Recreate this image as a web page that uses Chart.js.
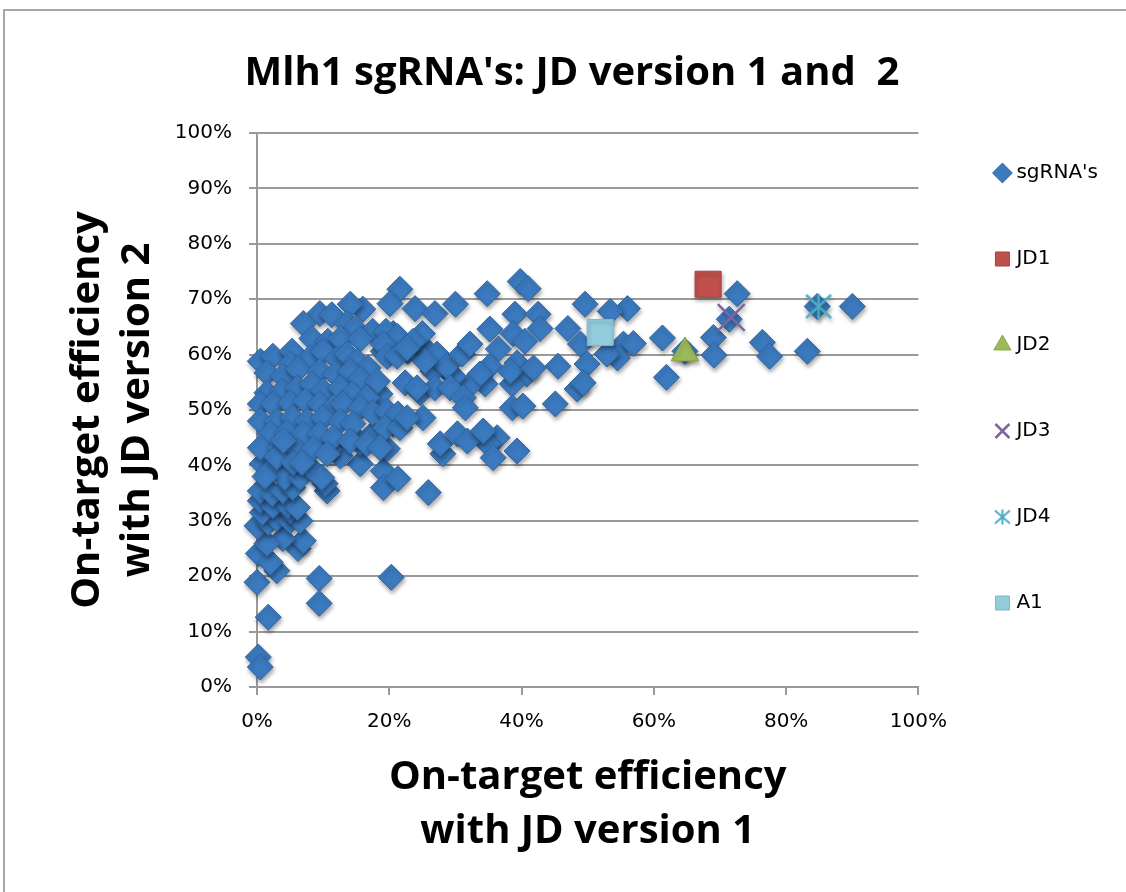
<!DOCTYPE html>
<html><head><meta charset="utf-8">
<script src="https://cdn.jsdelivr.net/npm/chart.js@4.4.1/dist/chart.umd.min.js"></script>
<style>
html,body{margin:0;padding:0;background:#fff;overflow:hidden}
#frame{position:absolute;left:3px;top:9px;width:1200px;height:1000px;border-left:2px solid #a6a6a6;border-top:2px solid #a6a6a6}
#wrap{position:absolute;left:0;top:0;width:1126px;height:892px}
</style></head><body>
<div id="frame"></div>
<div id="wrap"><canvas id="c" width="1126" height="892"></canvas></div>
<script>
const chartTitle = "Mlh1 sgRNA's: JD version 1 and  2";
const xTitle = ["On-target efficiency", "with JD version 1"];
const yTitle = ["On-target efficiency", "with JD version 2"];
const seriesNames = ["sgRNA's", "JD1", "JD2", "JD3", "JD4", "A1"];

// sgRNA's (x = JD version 1 %, y = JD version 2 %)
const sgX = [
 90.0,83.2,76.4,77.5,72.6,71.4,84.7,69.0,69.1,64.7,61.9,61.3,56.0,53.4,55.4,56.9,54.5,52.9,
 34.8,39.8,41.0,49.6,39.0,42.5,42.8,35.2,38.7,47.0,40.5,36.5,48.9,45.5,49.9,39.3,35.2,40.8,38.6,34.5,48.4,49.3,45.1,38.6,40.2,36.3,39.3,34.9,
 38.3,41.8,33.7,31.8,29.7,26.6,24.7,28.1,35.7,25.9,
 21.6,20.1,23.9,26.9,30.0,16.0,20.6,25.0,19.1,22.8,27.2,28.7,31.0,32.2,25.4,22.4,24.7,26.9,29.2,31.2,31.5,17.1,18.6,25.1,20.6,17.5,27.7,30.3,31.8,34.2,
 0.2,0.5,1.7,0.0,9.4,9.4,20.3,3.0,0.2,2.0,6.2,7.0,3.9,1.5,0.0,1.7,3.0,5.0,6.5,0.8,5.0,0.5,2.4,4.7,6.1,0.5,2.3,10.6,10.3,3.9,5.4,0.8,2.3,4.2,6.5,8.8,9.8,15.6,19.1,19.1,21.3,12.6,11.0,19.7,15.6,
 14.1,9.5,11.3,7.0,13.6,14.8,17.5,19.5,21.2,8.3,10.7,12.6,15.6,19.1,23.6,0.5,2.4,5.3,5.0,8.0,10.0,12.1,13.6,15.1,16.8,19.7,21.2,22.7,24.2,
 1.5,3.9,6.2,9.5,11.8,14.1,15.6,18.2,1.5,3.8,6.1,8.3,10.0,12.6,14.4,16.6,0.5,2.4,5.0,7.3,9.5,11.5,13.0,15.6,17.5,19.7,21.3,19.4,21.6,
 0.5,3.0,5.4,7.6,10.0,12.6,14.5,2.0,4.5,7.0,9.5,11.5,14.1,16.6,18.6,0.5,3.5,6.1,8.5,10.6,22.7,1.2,3.0,5.5,6.8,4.0
];
const sgY = [
 68.7,60.6,62.2,59.7,71.0,66.4,68.7,63.1,59.9,60.6,55.9,63.0,68.3,67.8,61.9,62.0,59.4,60.1,
 71.0,73.2,71.9,69.1,67.3,67.3,64.7,64.6,63.8,64.7,62.4,61.0,61.9,57.9,58.3,58.5,57.9,56.5,54.7,54.7,53.8,54.9,51.1,50.4,50.7,45.0,42.6,43.9,
 57.0,57.6,56.5,54.0,56.1,57.0,61.9,42.1,41.4,35.1,
 71.8,69.2,68.3,67.4,69.1,68.2,63.8,63.8,60.6,60.6,60.1,57.9,60.1,61.9,58.8,54.9,53.1,54.0,54.0,52.2,50.4,54.0,52.9,48.6,47.5,45.7,43.9,45.7,44.4,46.2,
 5.4,3.6,12.6,18.9,19.6,15.1,19.8,21.0,24.1,22.5,25.0,26.4,26.8,25.9,29.1,29.7,30.4,30.0,30.0,31.5,31.8,33.6,32.7,32.7,32.4,35.4,34.9,35.4,36.7,35.4,36.0,40.3,39.6,37.8,37.8,38.7,37.8,40.3,39.0,36.0,37.6,41.7,43.0,43.0,44.1,
 69.1,67.4,67.2,65.6,65.6,64.7,64.2,64.2,63.3,62.9,62.4,62.9,62.8,61.9,62.4,58.8,59.7,60.6,58.3,59.4,60.6,59.2,60.1,58.8,57.6,59.7,59.7,61.2,54.0,
 56.7,56.1,57.4,57.0,56.5,57.0,55.6,55.2,53.1,53.4,54.0,54.7,53.4,54.0,52.9,52.2,51.1,51.1,51.3,51.6,51.1,50.4,51.1,50.4,49.5,49.8,49.3,46.8,46.8,
 48.0,48.0,48.6,48.0,48.6,48.0,47.5,45.7,45.9,45.7,45.7,45.0,44.4,43.9,43.2,43.2,43.2,42.6,43.0,42.1,48.6,38.0,41.5,40.5,40.5,44.5
];
const jdX = [68.2, 64.7, 71.7, 84.9, 51.9];   // JD1, JD2, JD3, JD4, A1
const jdY = [72.7, 60.3, 66.7, 68.7, 64.0];
const xTicks = [0, 20, 40, 60, 80, 100];
const yTicks = [0, 10, 20, 30, 40, 50, 60, 70, 80, 90, 100];

const FONT_T = "'Liberation Sans Narrow', 'Open Sans', sans-serif";
const FONT_N = "'DejaVu Sans', sans-serif";

function asterisk(size, color, lw) {
  const c = document.createElement('canvas');
  c.width = size; c.height = size;
  const g = c.getContext('2d');
  g.strokeStyle = color; g.lineWidth = lw; g.lineCap = 'butt';
  const m = lw, s = size;
  g.beginPath();
  g.moveTo(s/2, m); g.lineTo(s/2, s-m);
  g.moveTo(m, m+1); g.lineTo(s-m, s-m-1);
  g.moveTo(s-m, m+1); g.lineTo(m, s-m-1);
  g.stroke();
  return c;
}
const starBig = asterisk(30, '#4bacc6', 2.5);
const starSmall = asterisk(19, '#4bacc6', 2);

const pts = (xs, ys) => xs.map((x, i) => ({x, y: ys[i]}));
const one = i => [{x: jdX[i], y: jdY[i]}];

const shadowPlugin = {
  id: 'shadow',
  beforeDatasetDraw(chart) {
    const ctx = chart.ctx; ctx.save();
    ctx.shadowColor = 'rgba(0,0,0,0.35)'; ctx.shadowBlur = 4; ctx.shadowOffsetX = 1; ctx.shadowOffsetY = 3;
  },
  afterDatasetDraw(chart) { chart.ctx.restore(); }
};
const boxShift = {
  id: 'boxShift',
  afterLayout(chart) {
    const l = chart.legend;
    if (l) { l.left += 14; l.right += 14; l.top -= 58; l.bottom -= 58; }
    const t = chart.titleBlock;
    if (t) { t.left += 25; t.right += 25; }
  }
};

new Chart(document.getElementById('c'), {
  type: 'scatter',
  data: {
    datasets: [
      {label: seriesNames[0], data: pts(sgX, sgY), pointStyle: 'rectRot', pointRadius: 13, pointHoverRadius: 13,
       backgroundColor: '#3b7abf', borderColor: '#2f649e', borderWidth: 1, order: 2, clip: false},
      {label: seriesNames[1], data: one(0), pointStyle: 'rect', pointRadius: 18.4, pointHoverRadius: 18.4,
       backgroundColor: '#c0504d', borderColor: '#a8403d', borderWidth: 1, order: 1, clip: false},
      {label: seriesNames[2], data: one(1), pointStyle: 'triangle', pointRadius: 16, pointHoverRadius: 16,
       backgroundColor: '#9bbb59', borderColor: '#85a44a', borderWidth: 1, order: 1, clip: false},
      {label: seriesNames[3], data: one(2), pointStyle: 'crossRot', pointRadius: 19, pointHoverRadius: 19,
       backgroundColor: '#8064a2', borderColor: '#8064a2', borderWidth: 2.5, order: 1, clip: false},
      {label: seriesNames[4], data: one(3), pointStyle: starBig, pointRadius: 15,
       backgroundColor: '#4bacc6', borderColor: '#4bacc6', borderWidth: 2, order: 1, clip: false},
      {label: seriesNames[5], data: one(4), pointStyle: 'rect', pointRadius: 18.4, pointHoverRadius: 18.4,
       backgroundColor: '#93cddd', borderColor: '#7fb8c8', borderWidth: 1, order: 1, clip: false}
    ]
  },
  options: {
    responsive: false, animation: false, devicePixelRatio: 1,
    layout: {padding: {left: 0, right: 32, top: 0, bottom: 0}},
    plugins: {
      tooltip: {enabled: false},
      title: {display: true, text: chartTitle, color: '#000',
        font: {family: FONT_T, size: 40, weight: 'bold', lineHeight: 1.2},
        padding: {top: 50, bottom: 35}},
      legend: {position: 'right', align: 'center',
        labels: {usePointStyle: true, boxWidth: 8, boxHeight: 14, padding: 66, color: '#000',
          font: {family: FONT_N, size: 20},
          sort: (a, b) => a.datasetIndex - b.datasetIndex,
          generateLabels(chart) {
            const items = Chart.defaults.plugins.legend.labels.generateLabels(chart);
            items.forEach(it => { if (it.datasetIndex === 4) it.pointStyle = starSmall; });
            return items;
          }}}
    },
    scales: {
      x: {type: 'linear', position: 'bottom', min: 0, max: 100,
        afterFit(s) { s.height = 205; },
        afterBuildTicks(s) { s.ticks = xTicks.map(v => ({value: v})); },
        ticks: {color: '#000', font: {family: FONT_N, size: 20}, padding: 15, callback: v => v + '%', maxRotation: 0},
        grid: {drawOnChartArea: false, drawTicks: true, tickLength: 8, color: '#9a9a9a', lineWidth: 2},
        border: {color: '#9a9a9a', width: 2},
        title: {display: true, text: xTitle, color: '#000',
          font: {family: FONT_T, size: 40, weight: 'bold', lineHeight: 1.35}, padding: {top: 0, bottom: 33}}},
      y: {type: 'linear', min: 0, max: 100,
        afterFit(s) { s.width = 257; },
        afterBuildTicks(s) { s.ticks = yTicks.map(v => ({value: v})); },
        ticks: {color: '#000', font: {family: FONT_N, size: 20}, padding: 17, callback: v => v + '%'},
        grid: {drawTicks: true, tickLength: 8, color: '#9a9a9a', lineWidth: 2},
        border: {color: '#9a9a9a', width: 2},
        title: {display: true, text: yTitle, color: '#000',
          font: {family: FONT_T, size: 40, weight: 'bold', lineHeight: 1.25}, padding: {top: 63, bottom: 0}}}
    }
  },
  plugins: [shadowPlugin, boxShift]
});
</script>
</body></html>
